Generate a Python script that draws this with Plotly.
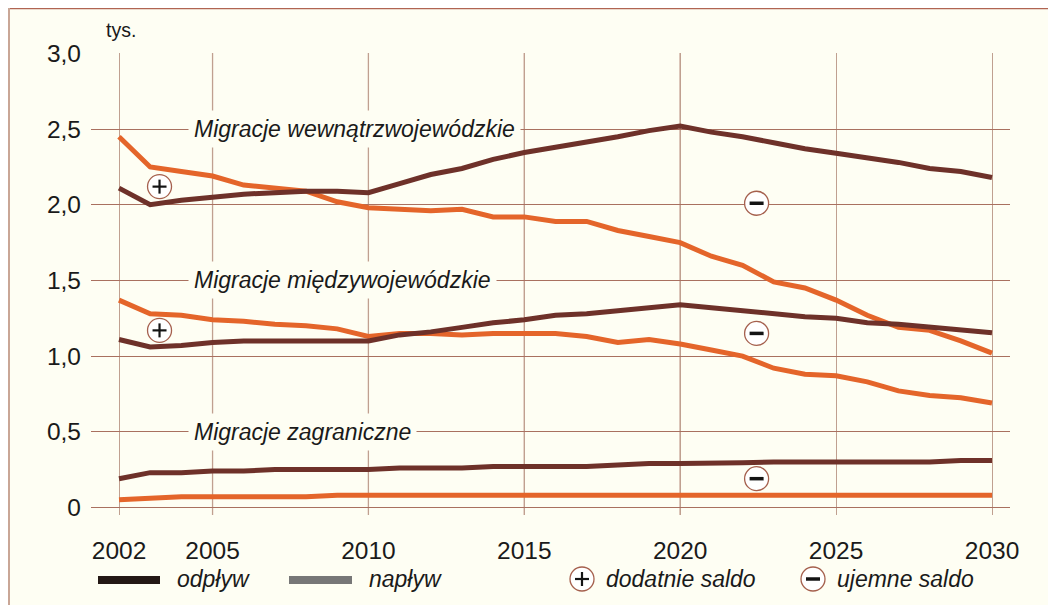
import plotly.graph_objects as go

years = list(range(2002, 2031))

wew_odplyw = [2.11, 2.00, 2.03, 2.05, 2.07, 2.08, 2.09, 2.09, 2.08, 2.14, 2.20, 2.24, 2.30, 2.345,
              2.38, 2.41, 2.45, 2.49, 2.52, 2.48, 2.45, 2.41, 2.37, 2.34, 2.31, 2.28, 2.24, 2.22, 2.18]
wew_naplyw = [2.45, 2.25, 2.22, 2.19, 2.13, 2.11, 2.09, 2.02, 1.98, 1.97, 1.96, 1.97, 1.92, 1.92,
              1.89, 1.89, 1.83, 1.79, 1.75, 1.66, 1.60, 1.49, 1.45, 1.37, 1.27, 1.19, 1.17, 1.10, 1.02]
mie_odplyw = [1.11, 1.06, 1.07, 1.09, 1.10, 1.10, 1.10, 1.10, 1.10, 1.14, 1.16, 1.19, 1.22, 1.24,
              1.27, 1.28, 1.30, 1.32, 1.34, 1.32, 1.30, 1.28, 1.26, 1.25, 1.22, 1.21, 1.19, 1.17, 1.155]
mie_naplyw = [1.37, 1.28, 1.27, 1.24, 1.23, 1.21, 1.20, 1.18, 1.13, 1.15, 1.15, 1.14, 1.15, 1.15,
              1.15, 1.13, 1.09, 1.11, 1.08, 1.04, 1.00, 0.92, 0.88, 0.87, 0.83, 0.77, 0.74, 0.725, 0.69]
zag_odplyw = [0.19, 0.23, 0.23, 0.24, 0.24, 0.25, 0.25, 0.25, 0.25, 0.26, 0.26, 0.26, 0.27, 0.27,
              0.27, 0.27, 0.28, 0.29, 0.29, 0.29, 0.295, 0.30, 0.30, 0.30, 0.30, 0.30, 0.30, 0.31, 0.31]
zag_naplyw = [0.05, 0.06, 0.07, 0.07, 0.07, 0.07, 0.07, 0.08, 0.08, 0.08, 0.08, 0.08, 0.08, 0.08,
              0.08, 0.08, 0.08, 0.08, 0.08, 0.08, 0.08, 0.08, 0.08, 0.08, 0.08, 0.08, 0.08, 0.08, 0.08]

x_ticks = [2002, 2005, 2010, 2015, 2020, 2025, 2030]
y_ticks = [0, 0.5, 1.0, 1.5, 2.0, 2.5, 3.0]
y_tick_labels = ["0", "0,5", "1,0", "1,5", "2,0", "2,5", "3,0"]

group_labels = ["Migracje wewnątrzwojewódzkie", "Migracje międzywojewódzkie", "Migracje zagraniczne"]
group_label_y = [2.5, 1.5, 0.5]
group_label_x = 2004.2

plus_x = [2003.3, 2003.3]
plus_y = [2.12, 1.17]
minus_x = [2022.45, 2022.45, 2022.45]
minus_y = [2.01, 1.15, 0.19]

DARK = "#6e3129"
ORANGE = "#e4652a"
BG = "#fefef3"
GRID = "#a9705f"
GRID_LIGHT = "#c0a090"
TXT = "#1a1a1a"
FONT = "Liberation Sans, Arial, sans-serif"

fig = go.Figure()
groups = [(wew_naplyw, wew_odplyw), (mie_naplyw, mie_odplyw), (zag_naplyw, zag_odplyw)]
for naplyw, odplyw in groups:
    fig.add_trace(go.Scatter(x=years, y=naplyw, mode="lines",
                             line=dict(color=ORANGE, width=5), showlegend=False, hoverinfo="skip"))
for naplyw, odplyw in groups:
    fig.add_trace(go.Scatter(x=years, y=odplyw, mode="lines",
                             line=dict(color=DARK, width=5), showlegend=False, hoverinfo="skip"))

# page offset (body margin) and plot area geometry in page pixels
O = 8
W, H = 1056 - O, 605 - O
L, R, T, B = 91 - O, 1010 - O, 53 - O, 515 - O


def px(xp):
    return (xp - O - L) / (R - L)


def py(yp):
    return (B - (yp - O)) / (B - T)


shapes = []

# darker vertical grid lines at inner ticks (outer ones stay lighter)
for xv in x_ticks[1:5]:
    shapes.append(dict(type="line", xref="x", yref="paper", x0=xv, x1=xv, y0=0, y1=1,
                       line=dict(color=GRID, width=1.2), layer="below"))


def saldo(xa, ya, sign, xref="x", yref="y"):
    shapes.append(dict(type="circle", xref=xref, yref=yref, xsizemode="pixel", ysizemode="pixel",
                       xanchor=xa, yanchor=ya, x0=-12, x1=12, y0=-12, y1=12,
                       fillcolor="white", line=dict(color="#a5604d", width=1.3), layer="above"))
    shapes.append(dict(type="line", xref=xref, yref=yref, xsizemode="pixel", ysizemode="pixel",
                       xanchor=xa, yanchor=ya, x0=-7, x1=7, y0=0, y1=0,
                       line=dict(color="#141414", width=3.5 if sign < 0 else 2.2), layer="above"))
    if sign > 0:
        shapes.append(dict(type="line", xref=xref, yref=yref, xsizemode="pixel", ysizemode="pixel",
                           xanchor=xa, yanchor=ya, x0=0, x1=0, y0=-7, y1=7,
                           line=dict(color="#141414", width=2.2), layer="above"))


for xa, ya in zip(plus_x, plus_y):
    saldo(xa, ya, 1)
for xa, ya in zip(minus_x, minus_y):
    saldo(xa, ya, -1)

# frame
shapes.append(dict(type="line", xref="paper", yref="paper", x0=px(O), x1=px(1060), y0=py(O + 0.6), y1=py(O + 0.6),
                   line=dict(color="#b06452", width=1.2)))
shapes.append(dict(type="line", xref="paper", yref="paper", x0=px(O + 1), x1=px(O + 1), y0=py(O), y1=py(610),
                   line=dict(color="#c9a696", width=2)))

# legend
shapes.append(dict(type="line", xref="paper", yref="paper", x0=px(98), x1=px(160), y0=py(580), y1=py(580),
                   line=dict(color="#231814", width=8)))
shapes.append(dict(type="line", xref="paper", yref="paper", x0=px(289), x1=px(352), y0=py(580), y1=py(580),
                   line=dict(color="#777777", width=8)))
saldo(px(582), py(579), 1, "paper", "paper")
saldo(px(813), py(579), -1, "paper", "paper")

annotations = []
for txt, xs in [("odpływ", 175), ("napływ", 367), ("dodatnie saldo", 604), ("ujemne saldo", 835)]:
    annotations.append(dict(text="<i>%s</i>" % txt, xref="paper", yref="paper", x=px(xs), y=py(579),
                            xanchor="left", yanchor="middle", showarrow=False,
                            font=dict(family=FONT, size=23, color=TXT)))
annotations.append(dict(text="tys.", xref="paper", yref="paper", x=px(104), y=py(30),
                        xanchor="left", yanchor="middle", showarrow=False,
                        font=dict(family=FONT, size=19.5, color=TXT)))
for txt, yv in zip(group_labels, group_label_y):
    annotations.append(dict(text="<i>%s</i>" % txt, x=group_label_x, y=yv, xref="x", yref="y",
                            xanchor="left", yanchor="middle", showarrow=False, bgcolor=BG, borderpad=5,
                            font=dict(family=FONT, size=23, color=TXT)))

x_lo = 2002 - (119 - 91) / ((992 - 119) / 28)
x_hi = 2030 + (1010 - 992) / ((992 - 119) / 28)

fig.update_layout(
    width=W, height=H,
    margin=dict(l=L, r=W - R, t=T, b=H - B, pad=0),
    paper_bgcolor=BG, plot_bgcolor=BG,
    shapes=shapes, annotations=annotations,
    showlegend=False,
    xaxis=dict(range=[x_lo, x_hi], tickvals=x_ticks, ticktext=[str(v) for v in x_ticks],
               showgrid=True, gridcolor=GRID_LIGHT, gridwidth=1.2, zeroline=False, showline=False,
               ticks="", ticklabelstandoff=18,
               tickfont=dict(family=FONT, size=24.5, color=TXT), fixedrange=True),
    yaxis=dict(range=[-0.05, 3.003], tickvals=y_ticks, ticktext=y_tick_labels,
               showgrid=True, gridcolor=GRID, gridwidth=1.2, zeroline=False, showline=False,
               ticks="", ticklabelstandoff=9,
               tickfont=dict(family=FONT, size=24.5, color=TXT), fixedrange=True),
)

fig.write_html("out.html")
